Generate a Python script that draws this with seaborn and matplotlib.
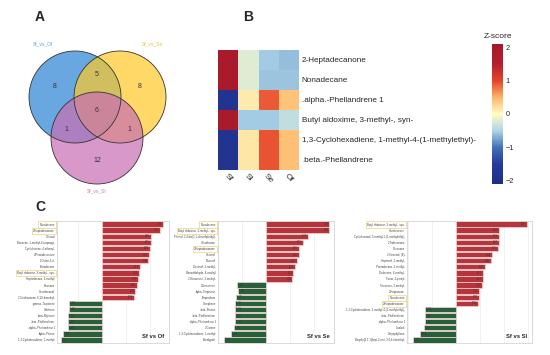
import numpy as np
import pandas as pd
import seaborn as sns
import matplotlib.pyplot as plt
from matplotlib.patches import Circle
from matplotlib.ticker import MultipleLocator
from matplotlib.colors import LinearSegmentedColormap

sns.set_style('white')
plt.rcParams['font.family'] = ['Liberation Sans', 'DejaVu Sans']

# ---- data ----
# Venn: region counts  [Of only, Se only, Sl only, Of&Se, Of&Sl, Se&Sl, all]
venn_sets = ['Sf_vs_Of', 'Sf_vs_Se', 'Sf_vs_Sl']
venn_counts = [8, 8, 12, 5, 1, 1, 6]

# heatmap z-scores
hm_rows = ['2-Heptadecanone', 'Nonadecane', '.alpha.-Phellandrene 1',
           'Butyl aldoxime, 3-methyl-, syn-',
           '1,3-Cyclohexadiene, 1-methyl-4-(1-methylethyl)-', '.beta.-Phellandrene']
hm_cols = ['Sf', 'Sl', 'Se', 'Of']
hm_z = [[1.90, -0.20, -0.55, -0.62],
        [1.90, -0.20, -0.58, -0.58],
        [-1.80, 0.12, 0.90, 0.40],
        [1.90, -0.55, -0.55, -0.38],
        [-1.80, 0.15, 0.92, 0.42],
        [-1.80, 0.15, 0.92, 0.42]]

# bar charts (log2 fold change)
of_names = ['Nonadecane', '2-Heptadecanone', 'Octanal',
            'Benzene, 1-methyl-4-isopropyl-', 'Cyclohexene, 4-ethenyl-',
            '2-Pentadecanone', '1-Octen-3-ol', 'Tetradecane',
            'Butyl aldoxime, 3-methyl-, syn-', 'Heptadecane, 2-methyl-', 'Eicosane',
            'Hexadecanal', '2-Undecanone, 6,10-dimethyl-',
            '.gamma.-Terpinene', 'Sabinene', 'beta.-Myrcene', '.beta.-Phellandrene',
            '.alpha.-Phellandrene 1', '.alpha.-Pinene',
            '1,3-Cyclohexadiene, 1-methyl-']
of_vals = [2.54, 2.40, 2.05, 2.05, 2.01, 1.96, 1.93, 1.57, 1.54, 1.50, 1.46, 1.38, 1.33,
           -1.39, -1.39, -1.42, -1.42, -1.42, -1.63, -1.70]
of_mark = [0, 1, 8]

se_names = ['Nonadecane', 'Butyl aldoxime, 3-methyl-, syn-',
            'Phenol, 2,4-bis(1,1-dimethylethyl)-', 'Octadecane', '2-Heptadecanone',
            'Hexanal', 'Nonanal', 'Decanal, 2-methyl-', 'Benzaldehyde, 4-methyl-',
            '2-Nonanone, 3-methyl-',
            'D-Limonene', '.alpha.-Terpinene', 'Terpinolene', 'Camphene',
            '.beta.-Pinene', '.beta.-Phellandrene', '.alpha.-Phellandrene 1', '3-Carene',
            '1,3-Cyclohexadiene, 1-methyl-', 'Eucalyptol']
se_vals = [2.64, 2.64, 1.74, 1.53, 1.36, 1.36, 1.30, 1.21, 1.13, 1.10,
           -1.21, -1.18, -1.25, -1.29, -1.30, -1.30, -1.30, -1.33, -1.46, -1.74]
se_mark = [0, 1, 4]

sl_names = ['Butyl aldoxime, 3-methyl-, syn-', 'Heneicosane',
            'Cyclohexanol, 5-methyl-2-(1-methylethyl)-', '2-Tridecanone', 'Docosane',
            '2-Hexenal, (E)-', 'Heptanal, 2-methyl-', 'Pentadecane, 2-methyl-',
            'Dodecane, 4-methyl-', 'Furan, 2-pentyl-', 'Tricosane, 2-methyl-',
            '2-Heptanone', 'Nonadecane', '2-Heptadecanone',
            '1,3-Cyclohexadiene, 1-methyl-4-(1-methylethyl)-', '.beta.-Phellandrene',
            '.alpha.-Phellandrene 1', 'Linalool', 'Caryophyllene',
            'Bicyclo[3.1.1]hept-2-ene, 2,6,6-trimethyl-']
sl_vals = [2.96, 1.80, 1.80, 1.80, 1.75, 1.49, 1.45, 1.20, 1.11, 1.11, 1.07, 0.97, 0.97, 0.93,
           -1.28, -1.28, -1.28, -1.35, -1.51, -1.79]
sl_mark = [0, 12, 13]

fig = plt.figure(figsize=(5.5, 3.55), dpi=100)


def px_axes(x0, y0, x1, y1):
    return fig.add_axes([x0 / 550, 1 - y1 / 355, (x1 - x0) / 550, (y1 - y0) / 355])


# ---- A: venn ----
ax = px_axes(0, 0, 200, 195)
ax.set_xlim(0, 200)
ax.set_ylim(195, 0)
ax.axis('off')
centers = [(75, 97), (120, 97), (97, 138)]
fills = ['#2882D2', '#FFC828', '#C86EB4']
for (cx, cy), c in zip(centers, fills):
    ax.add_patch(Circle((cx, cy), 46, facecolor=c, alpha=0.7, edgecolor='none'))
for (cx, cy) in centers:
    ax.add_patch(Circle((cx, cy), 46, fill=False, edgecolor='#333333', lw=0.6))
count_pos = [(55, 87), (140, 87), (97, 160), (97, 75), (66, 129), (129, 129), (97, 110)]
for (x, y), n in zip(count_pos, venn_counts):
    ax.text(x, y, str(n), ha='center', va='center', fontsize=5, color='#333333')
set_pos = [(43, 44), (152, 44), (97, 191)]
set_col = ['#5BA4DC', '#F0C040', '#C77BB6']
for (x, y), s, c in zip(set_pos, venn_sets, set_col):
    ax.text(x, y, s, ha='center', va='center', fontsize=3.5, color=c)

# ---- B: heatmap ----
zcmap = LinearSegmentedColormap.from_list('z', [
    (0.0, '#1F2D86'), (0.143, '#263A9B'), (0.262, '#4273B5'), (0.381, '#AED5E8'),
    (0.5, '#FFFCC4'), (0.619, '#FDB567'), (0.738, '#E5432A'), (0.857, '#B61F2D'),
    (1.0, '#A2182C')])
ax_hm = px_axes(218, 50, 299, 170)
cax = px_axes(492, 44, 503, 184)
df_hm = pd.DataFrame(hm_z, index=hm_rows, columns=hm_cols)
sns.heatmap(df_hm, ax=ax_hm, cbar_ax=cax, cmap=zcmap, vmin=-2.1, vmax=2.1,
            cbar_kws={'ticks': [-2, -1, 0, 1, 2]})
ax_hm.yaxis.tick_right()
ax_hm.set_yticklabels(hm_rows, rotation=0, fontsize=5.9)
ax_hm.set_xticklabels(hm_cols, rotation=-45, fontsize=6, ha='center')
ax_hm.tick_params(length=0, pad=2)
cax.tick_params(length=2.5, width=0.6, color='white', direction='in', labelsize=5.3,
                pad=2, left=True, right=True)
cax.set_title('Z-score', fontsize=6, pad=4)

# ---- C: bar charts ----
def draw_bars(box, names, vals, marks, title, xlim):
    ax = px_axes(*box)
    df = pd.DataFrame({'compound': names, 'log2FC': vals})
    df['dir'] = np.where(df['log2FC'] > 0, 'up', 'down')
    sns.barplot(data=df, x='log2FC', y='compound', hue='dir', orient='h', dodge=False,
                palette={'up': '#CC1F2A', 'down': '#1D6A35'}, width=0.9,
                edgecolor='#F5D5D5', linewidth=0.5, legend=False, ax=ax)
    ax.set_xlim(*xlim)
    ax.xaxis.set_major_locator(MultipleLocator(1))
    ax.grid(axis='x', color='#EBEBEB', lw=0.5)
    ax.set_axisbelow(True)
    ax.set_xlabel('')
    ax.set_ylabel('')
    ax.tick_params(axis='x', length=0, labelbottom=False)
    ax.tick_params(axis='y', length=0, labelsize=2.0, pad=1.5, labelcolor='#444444')
    for sp in ax.spines.values():
        sp.set_color('#D5D5D5')
        sp.set_linewidth(0.6)
    labels = ax.get_yticklabels()
    for i in marks:
        labels[i].set_bbox(dict(facecolor='white', edgecolor='#EDD27A', lw=0.5, pad=0.8))
    for i, v in enumerate(vals):
        ax.text(v - np.sign(v) * 0.04, i, f'{v:.2f}', ha='right' if v > 0 else 'left',
                va='center', fontsize=1.8, color='#333333')
    ax.text(0.96, 0.03, title, transform=ax.transAxes, ha='right', va='bottom',
            fontsize=4.2, weight='bold')


draw_bars((57, 221, 169, 343), of_names, of_vals, of_mark, 'Sf vs Of', (-1.875, 2.79))
draw_bars((218, 221, 334, 343), se_names, se_vals, se_mark, 'Sf vs Se', (-2.0, 2.83))
draw_bars((407, 221, 532, 343), sl_names, sl_vals, sl_mark, 'Sf vs Sl', (-2.04, 3.17))

# panel letters
for x, y, s in [(40, 17, 'A'), (248, 17, 'B'), (40, 207, 'C')]:
    fig.text(x / 550, 1 - y / 355, s, ha='center', va='center', fontsize=10, weight='bold')

fig.savefig('out.png', dpi=100)
